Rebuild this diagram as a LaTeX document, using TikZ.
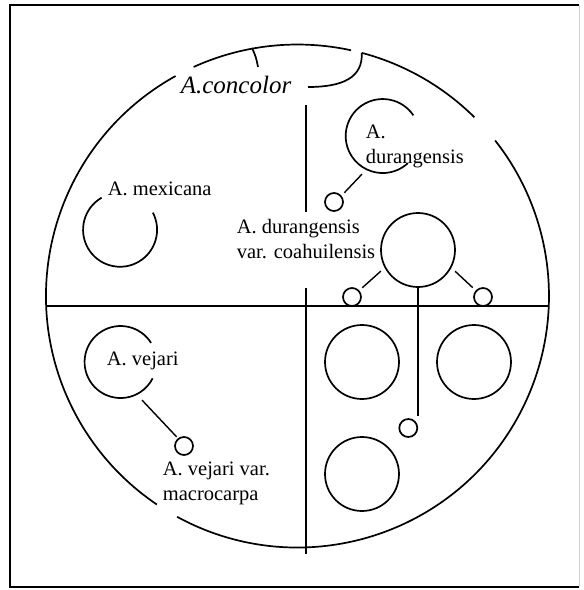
\documentclass[tikz,border=0pt]{standalone}
\usepackage{fontspec}
\setmainfont{Liberation Serif}

\begin{document}
\begin{tikzpicture}[x=1pt, y=1pt, line width=1.7pt,
    ring/.style={draw, circle, inner sep=0pt, minimum size=74pt},
    hole/.style={circle, inner sep=0pt, minimum size=74pt},
    dot/.style={draw, circle, inner sep=0pt, minimum size=18pt},
    lab/.style={anchor=base west, inner sep=0pt, align=left, font=\fontsize{20.5}{24.5}\selectfont},
    link/.style={line width=1.4pt}]
    \useasboundingbox (0,0) rectangle (584,-590);
    % frame
    \draw[line width=2pt] (579,-5) -- (9.5,-5) -- (9.5,-587) -- (579,-587);
    \draw[gray!35, line width=0.8pt] (579,-5) -- (579,-587);
    % outer circle, in pieces
    \coordinate (O) at (297.5,-296);
    \draw (O) ++(119:251.5) arc[start angle=119, end angle=236, radius=251.5];
    \draw (O) ++(241.4:251.5) arc[start angle=241.4, end angle=398.2, radius=251.5];
    \draw (O) ++(45.3:251.5) arc[start angle=45.3, end angle=75.2, radius=251.5];
    \draw (O) ++(77.7:251.5) arc[start angle=77.7, end angle=114.4, radius=251.5];
    \draw (252,-48) .. controls (256,-57) .. (258,-67);
    \draw (O) ++(75.2:251.5) .. controls (363,-78) and (342,-87) .. (308,-87);
    \draw (306,-105) -- (306,-212) (306,-288) -- (306,-554);
    \draw (46.5,-306) -- (549,-306);
    % open circles
    \node[hole] (dur) at (382,-136.5) {}; \node[hole] (mex) at (120.5,-230.5) {}; \node[hole] (vej) at (119,-363) {};
    \draw (dur.34) arc[start angle=34, end angle=313, radius=37];
    \draw (mex.120) arc[start angle=120, end angle=387.6, radius=37];
    \draw (vej.32) arc[start angle=32, end angle=333, radius=36];
    % closed circles
    \node[ring] (coah) at (418,-250) {};
    \node[ring] (se1) at (362,-362) {}; \node[ring] (se2) at (474,-362) {}; \node[ring] (se3) at (362,-474) {};
    \node[dot] (durvar) at (334,-202) {}; \node[dot] (cl) at (352,-297) {}; \node[dot] (cr) at (483,-297) {};
    \node[dot] (cb) at (408.3,-428) {}; \node[dot] (vejvar) at (184,-446) {};
    % links
    \draw[link, shorten <=4pt, shorten >=5pt] (durvar.40) -- (dur.244);
    \draw[link, shorten <=4pt, shorten >=5pt] (cl.42) -- (coah.208);
    \draw[link, shorten <=4pt, shorten >=5pt] (cr.138) -- (coah.-28);
    \draw[link, shorten >=2pt] (coah.south) -- (coah.south |- cb.north);
    \draw[link, shorten <=2pt, shorten >=6pt] (vejvar.128) -- (vej.300);
    % labels (base of a two-line label is its last line)
    \node[anchor=base west, inner sep=0pt, font=\fontsize{25}{30}\selectfont\itshape] (concolor) at (180,-93) {A.concolor};
    \node[lab] (mexlab) at (107,-195) {A. mexicana};
    \node[lab] (durlab) at (365,-163) {A.\\durangensis};
    \node[lab] (durvarlab) at (236,-258) {A. durangensis\\var. coahuilensis};
    \node[lab] (vejlab) at (106,-365) {A. vejari};
    \node[lab] (vejvarlab) at (162,-500) {A. vejari var.\\macrocarpa};
\end{tikzpicture}
\end{document}
